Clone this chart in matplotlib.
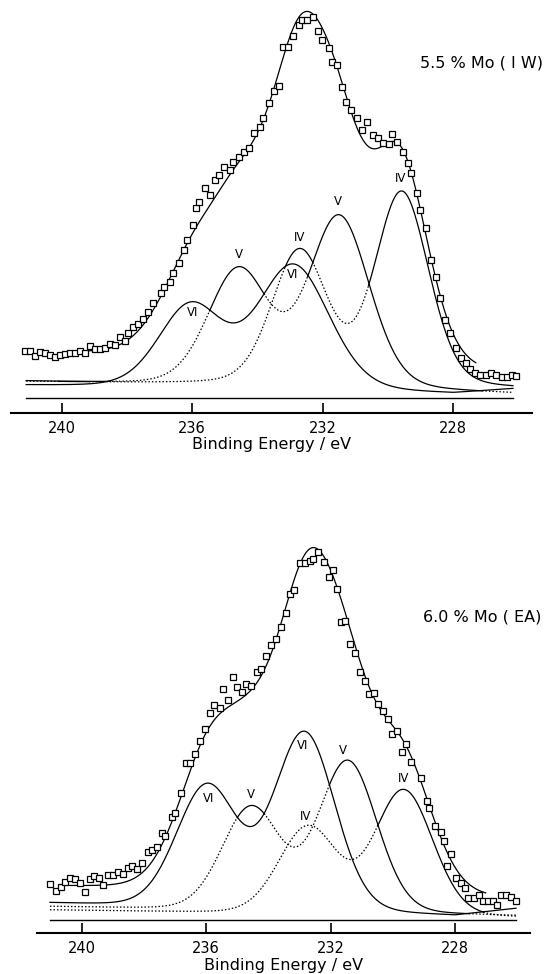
import numpy as np
import matplotlib.pyplot as plt

states = ["VI", "V", "IV"]

# ---- 5.5 % Mo (IW): fitted Mo 3d doublets (arb. units) ----
iw_pos_52 = [232.90, 231.50, 229.58]
iw_pos_32 = [236.05, 234.58, 232.71]
iw_h_52 = [125, 172, 194]
iw_h_32 = [82, 116, 134]
iw_fwhm_52 = [2.6, 2.2, 1.95]
iw_fwhm_32 = [2.3, 2.2, 2.0]
iw_bg_e = [[241.1, 228.0, 226.1], [241.1, 226.1], [241.1, 226.1]]
iw_bg_i = [[26.7, 18.4, 23.4], [31.0, 18.5], [31.0, 23.4]]
iw_env_bg_e = [241.1, 232.5, 226.1]
iw_env_bg_i = [60, 40, 34]
iw_base = 14.2

iw_energy = [241.12, 240.97, 240.82, 240.66, 240.51, 240.36, 240.21, 240.05, 239.90, 239.75,
             239.59, 239.44, 239.29, 239.13, 238.98, 238.83, 238.67, 238.52, 238.37, 238.21,
             238.06, 237.97, 237.82, 237.66, 237.51, 237.36, 237.20, 236.96, 236.86, 236.69,
             236.59, 236.42, 236.26, 236.15, 235.99, 235.88, 235.78, 235.61, 235.45, 235.29,
             235.18, 235.02, 234.85, 234.75, 234.58, 234.42, 234.26, 234.10, 233.93, 233.82,
             233.66, 233.50, 233.34, 233.23, 233.07, 232.90, 232.74, 232.63, 232.47, 232.31,
             232.15, 232.02, 231.82, 231.71, 231.55, 231.41, 231.28, 231.12, 230.96, 230.79,
             230.63, 230.47, 230.31, 230.14, 229.98, 229.87, 229.71, 229.55, 229.39, 229.28,
             229.11, 229.01, 228.85, 228.68, 228.52, 228.41, 228.25, 228.09, 227.93, 227.76,
             227.60, 227.49, 227.33, 227.17, 227.00, 226.84, 226.68, 226.52, 226.35, 226.19,
             226.08]
iw_counts = [61.7, 61.7, 56.7, 61.0, 59.7, 57.7, 56.0, 57.7, 58.7, 60.0,
             59.7, 61.7, 60.0, 66.7, 63.7, 63.7, 65.0, 68.7, 67.7, 75.7,
             72.0, 79.7, 86.0, 88.7, 93.7, 101.0, 110.0, 119.4, 125.4, 131.0,
             139.4, 149.4, 162.7, 172.7, 187.7, 204.4, 211.0, 224.4, 217.7, 232.7,
             237.7, 246.0, 242.7, 251.0, 256.0, 261.0, 264.4, 279.4, 286.0, 294.4,
             310.0, 322.0, 326.7, 366.0, 366.0, 376.7, 387.7, 392.7, 392.7, 396.0,
             382.0, 372.7, 364.4, 351.0, 347.7, 326.0, 311.0, 302.7, 294.4, 282.7,
             291.0, 277.7, 274.4, 269.4, 268.7, 278.7, 271.0, 261.0, 249.4, 239.4,
             219.4, 202.7, 184.4, 152.7, 136.0, 114.4, 92.7, 79.4, 64.4, 54.4,
             49.4, 43.4, 39.4, 37.7, 37.7, 40.0, 37.7, 35.4, 36.0, 37.7,
             37.0]

# ---- 6.0 % Mo (EA) ----
ea_pos_52 = [232.84, 231.45, 229.65]
ea_pos_32 = [235.97, 234.55, 232.72]
ea_h_52 = [178, 151, 125]
ea_h_32 = [122, 103, 87]
ea_fwhm_52 = [2.3, 2.2, 2.2]
ea_fwhm_32 = [2.3, 2.2, 2.2]
ea_bg_e = [[241.0, 228.0, 226.0], [241.0, 226.0], [241.0, 226.0]]
ea_bg_i = [[29.7, 17.0, 24.3], [26.3, 17.0], [23.0, 15.5]]
ea_env_bg_e = [241.0, 226.0]
ea_env_bg_i = [46, 33]
ea_base = 13.5

ea_energy = [241.02, 240.83, 240.68, 240.54, 240.38, 240.22, 240.05, 239.89, 239.73, 239.60,
             239.44, 239.31, 239.14, 238.98, 238.82, 238.66, 238.50, 238.37, 238.21, 238.07,
             237.86, 237.73, 237.59, 237.43, 237.32, 237.11, 236.99, 236.80, 236.66, 236.51,
             236.37, 236.20, 236.03, 235.88, 235.74, 235.57, 235.46, 235.29, 235.14, 235.00,
             234.85, 234.72, 234.55, 234.38, 234.23, 234.07, 233.92, 233.77, 233.60, 233.44,
             233.29, 233.16, 232.99, 232.82, 232.67, 232.55, 232.41, 232.21, 232.06, 231.93,
             231.79, 231.68, 231.53, 231.38, 231.22, 231.05, 230.90, 230.76, 230.59, 230.47,
             230.31, 230.16, 230.02, 229.86, 229.71, 229.56, 229.40, 229.08, 228.91, 228.83,
             228.63, 228.46, 228.34, 228.26, 228.13, 227.96, 227.81, 227.67, 227.57, 227.39,
             227.22, 227.09, 226.95, 226.78, 226.64, 226.53, 226.36, 226.20, 226.04]
ea_counts = [48.7, 42.3, 46.3, 51.3, 54.7, 54.0, 49.7, 41.3, 53.7, 57.0,
             55.3, 48.0, 58.0, 58.0, 61.3, 59.0, 65.3, 67.0, 63.7, 69.7,
             81.3, 83.0, 86.3, 99.7, 97.0, 116.3, 119.7, 140.3, 169.7, 170.3,
             178.7, 192.0, 203.7, 219.7, 228.0, 225.3, 243.7, 233.0, 255.7, 245.7,
             240.7, 249.0, 247.0, 261.3, 263.7, 277.0, 288.3, 293.7, 305.7, 320.3,
             339.0, 343.0, 369.7, 369.7, 372.0, 374.0, 381.3, 371.3, 356.3, 363.0,
             344.0, 311.3, 312.3, 288.7, 279.7, 261.3, 252.0, 239.0, 239.7, 229.0,
             222.0, 214.0, 198.7, 202.3, 181.3, 189.0, 171.3, 155.3, 132.3, 124.7,
             107.0, 101.3, 92.0, 67.3, 78.7, 55.3, 50.3, 44.7, 35.3, 35.3,
             38.0, 32.3, 32.0, 32.0, 28.0, 38.0, 38.0, 36.3, 32.3]


def gl(e, c, h, w, mix):
    x = (e - c) / w
    return h * ((1 - mix) * np.exp(-4 * np.log(2) * x**2) + mix / (1 + 4 * x**2))


def panel(ax, E, p52, p32, h52, h32, f52, f32, bge, bgi, envbe, envbi, mix, base,
          energy, counts, env_range, labels):
    comps = []
    allpk = np.zeros_like(E)
    for k in range(3):
        pk = gl(E, p52[k], h52[k], f52[k], mix) + gl(E, p32[k], h32[k], f32[k], mix)
        allpk += pk
        bg = np.interp(E, bge[k][::-1], bgi[k][::-1])
        comps.append(pk + bg)

    # a component is dotted where it runs under a higher oxidation state
    for k, y in enumerate(comps):
        if k == 0:
            dotted = np.zeros(len(E), bool)
        else:
            dotted = y < np.max(comps[:k], axis=0) - 0.3
        d = dotted.copy()
        d[1:] |= dotted[:-1]
        d[:-1] |= dotted[1:]
        s = ~dotted
        s2 = s.copy()
        s2[1:] |= s[:-1]
        s2[:-1] |= s[1:]
        ax.plot(E, np.where(s2, y, np.nan), color="black", lw=0.9)
        ax.plot(E, np.where(d, y, np.nan), color="black", lw=0.9, ls=(0, (1.2, 1.6)))

    env = allpk + np.interp(E, envbe[::-1], envbi[::-1])
    m = (E <= env_range[0]) & (E >= env_range[1])
    ax.plot(E[m], env[m], color="black", lw=0.9)

    ax.plot([E[0], E[-1]], [base, base], color="black", lw=1.0)
    ax.plot(energy, counts, ls="none", marker="s", ms=4.5, mfc="white",
            mec="black", mew=0.9)

    for txt, ex, iy in labels:
        ax.text(ex, iy, txt, ha="center", va="center", fontsize=8.5)

    for s in ["top", "left", "right"]:
        ax.spines[s].set_visible(False)
    ax.spines["bottom"].set_linewidth(1.5)
    ax.set_yticks([])
    ax.set_xticks([240, 236, 232, 228])
    ax.tick_params(axis="x", direction="in", length=7, width=1.2, pad=6, labelsize=10.5)
    ax.set_xlabel("Binding Energy / eV", fontsize=11.5, labelpad=1)
    ax.patch.set_alpha(0)


fig = plt.figure(figsize=(5.53, 9.74), dpi=100)

ax1 = fig.add_axes([10.6 / 553, 1 - 412.7 / 974, 521.4 / 553, 412.7 / 974])
ax1.set_xlim(241.566, 225.587)
ax1.set_ylim(0, 412.7)
E1 = np.linspace(241.09, 226.17, 800)
panel(ax1, E1, iw_pos_52, iw_pos_32, iw_h_52, iw_h_32, iw_fwhm_52, iw_fwhm_32,
      iw_bg_e, iw_bg_i, iw_env_bg_e, iw_env_bg_i, 0.2, iw_base,
      iw_energy, iw_counts, (239.2, 227.3),
      [("VI", 235.99, 100.7), ("V", 234.58, 157.7), ("IV", 232.71, 175.4),
       ("VI", 232.92, 137.7), ("V", 231.55, 211.0), ("IV", 229.60, 233.7)])

ax2 = fig.add_axes([37 / 553, 1 - 933 / 974, 493 / 553, 473 / 974])
ax2.set_xlim(241.437, 225.59)
ax2.set_ylim(0, 473)
E2 = np.linspace(241.02, 226.04, 800)
panel(ax2, E2, ea_pos_52, ea_pos_32, ea_h_52, ea_h_32, ea_fwhm_52, ea_fwhm_32,
      ea_bg_e, ea_bg_i, ea_env_bg_e, ea_env_bg_i, 0.1, ea_base,
      ea_energy, ea_counts, (240.6, 227.0),
      [("VI", 235.91, 134.7), ("V", 234.55, 138.7), ("VI", 232.90, 187.3),
       ("V", 231.59, 182.3), ("IV", 232.82, 117.0), ("IV", 229.66, 154.7)])

fig.text(420 / 553, 1 - 63 / 974, "5.5 % Mo ( I W)", fontsize=11.5, va="center", ha="left")
fig.text(423 / 553, 1 - 617 / 974, "6.0 % Mo ( EA)", fontsize=11.5, va="center", ha="left")

fig.savefig("out.png", dpi=100)
